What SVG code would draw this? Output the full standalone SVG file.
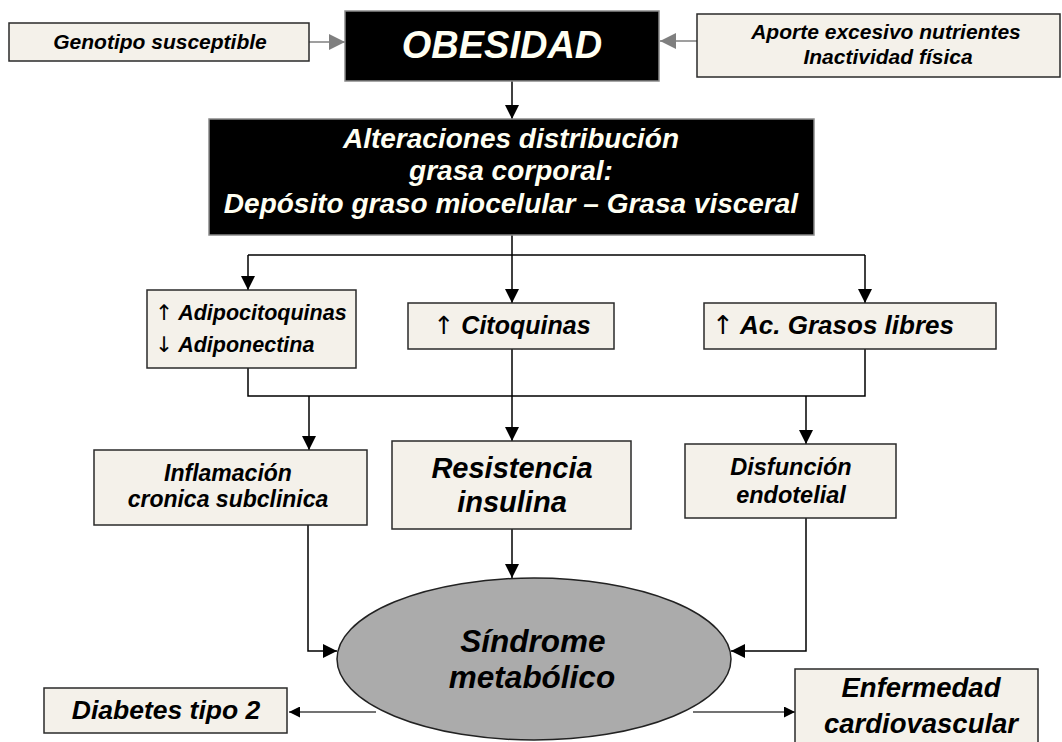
<svg xmlns="http://www.w3.org/2000/svg" width="1062" height="742" viewBox="0 0 1062 742">
<style>
.box{fill:#f4f1ea;stroke:#2a2a2a;stroke-width:1.5}
.dark{fill:#000;stroke:#8a8a8a;stroke-width:1.5}
.t{font-family:"Liberation Sans",Arial,Helvetica,sans-serif;font-weight:bold;font-style:italic;fill:#000}
.w{fill:#fffff2}
.c{text-anchor:middle}
.ar{font-family:"DejaVu Sans",sans-serif;font-weight:normal;font-style:normal}
.k{fill:none;stroke:#000;stroke-width:1.5}
.g{fill:none;stroke:#7f7f7f;stroke-width:1.5}
.d{fill:none;stroke:#444;stroke-width:1.5}
</style>
<defs>
<marker id="ab" viewBox="0 0 10 10" refX="10" refY="5" markerWidth="14" markerHeight="14" markerUnits="userSpaceOnUse" orient="auto"><path d="M0,0L10,5L0,10z" fill="#000"/></marker>
<marker id="ag" viewBox="0 0 10 10" refX="10" refY="5" markerWidth="16" markerHeight="16" markerUnits="userSpaceOnUse" orient="auto"><path d="M0,0L10,5L0,10z" fill="#7f7f7f"/></marker>
<marker id="ad" viewBox="0 0 10 10" refX="10" refY="5" markerWidth="11" markerHeight="11" markerUnits="userSpaceOnUse" orient="auto"><path d="M0,0L10,5L0,10z" fill="#000"/></marker>
</defs>
<g id="connectors">
<path class="g" d="M309,42H345" marker-end="url(#ag)"/>
<path class="g" d="M697,41H660" marker-end="url(#ag)"/>
<path class="k" d="M512,81V119" marker-end="url(#ab)"/>
<path class="k" d="M512,235V303" marker-end="url(#ab)"/>
<path class="k" d="M248,255H865"/>
<path class="k" d="M248,255V290" marker-end="url(#ab)"/>
<path class="k" d="M865,255V303" marker-end="url(#ab)"/>
<path class="k" d="M248,368V396H865V349"/>
<path class="k" d="M512,349V396"/>
<path class="k" d="M309,396V450" marker-end="url(#ab)"/>
<path class="k" d="M512,396V441" marker-end="url(#ab)"/>
<path class="k" d="M806,396V444" marker-end="url(#ab)"/>
<path class="k" d="M308,525V651H337" marker-end="url(#ab)"/>
<path class="k" d="M512,529V578" marker-end="url(#ab)"/>
<path class="k" d="M806,518V651H731" marker-end="url(#ab)"/>
<path class="d" d="M376,712H289" marker-end="url(#ad)"/>
<path class="d" d="M693,712H795" marker-end="url(#ad)"/>
</g>
<g id="genotipo">
<rect class="box" x="9" y="23" width="300" height="38"/>
<text class="t c" x="160" y="49" font-size="21">Genotipo susceptible</text>
</g>
<g id="obesidad">
<rect class="dark" x="345" y="11" width="314" height="70"/>
<text class="t c w" x="502" y="58" font-size="38">OBESIDAD</text>
</g>
<g id="aporte">
<rect class="box" x="697" y="14" width="363" height="63"/>
<text class="t c" x="886" y="39" font-size="21">Aporte excesivo nutrientes</text>
<text class="t c" x="888" y="64" font-size="21">Inactividad física</text>
</g>
<g id="alteraciones">
<rect class="dark" x="209" y="119" width="605" height="116"/>
<text class="t c w" x="511" y="148" font-size="28">Alteraciones distribución</text>
<text class="t c w" x="511" y="180" font-size="28">grasa corporal:</text>
<text class="t c w" x="511" y="213" font-size="28">Depósito graso miocelular – Grasa visceral</text>
</g>
<g id="adipocitoquinas">
<rect class="box" x="147" y="290" width="209" height="78"/>
<text class="t" x="155" y="320" font-size="21.5"><tspan class="ar">↑</tspan> Adipocitoquinas</text>
<text class="t" x="155" y="352" font-size="21.5"><tspan class="ar">↓</tspan> Adiponectina</text>
</g>
<g id="citoquinas">
<rect class="box" x="408" y="303" width="206" height="46"/>
<text class="t c" x="512" y="334" font-size="25"><tspan class="ar">↑</tspan> Citoquinas</text>
</g>
<g id="acgrasos">
<rect class="box" x="704" y="303" width="292" height="46"/>
<text class="t c" x="833" y="334" font-size="26"><tspan class="ar">↑</tspan> Ac. Grasos libres</text>
</g>
<g id="inflamacion">
<rect class="box" x="94" y="450" width="273" height="75"/>
<text class="t c" x="228" y="481" font-size="23">Inflamación</text>
<text class="t c" x="228" y="507" font-size="23">cronica subclinica</text>
</g>
<g id="resistencia">
<rect class="box" x="392" y="441" width="239" height="88"/>
<text class="t c" x="512" y="478" font-size="29">Resistencia</text>
<text class="t c" x="512" y="512" font-size="29">insulina</text>
</g>
<g id="disfuncion">
<rect class="box" x="685" y="444" width="211" height="74"/>
<text class="t c" x="791" y="475" font-size="23.5">Disfunción</text>
<text class="t c" x="791" y="503" font-size="23.5">endotelial</text>
</g>
<g id="sindrome">
<ellipse cx="534" cy="659" rx="197" ry="81" fill="#ababab" stroke="#222" stroke-width="1.5"/>
<text class="t c" x="533" y="652" font-size="31.5">Síndrome</text>
<text class="t c" x="532" y="688" font-size="31.5">metabólico</text>
</g>
<g id="diabetes">
<rect class="box" x="44" y="688" width="243" height="45"/>
<text class="t c" x="166" y="719" font-size="26.5">Diabetes tipo 2</text>
</g>
<g id="enfermedad">
<rect class="box" x="795" y="669" width="243" height="80"/>
<text class="t c" x="921" y="697" font-size="27.5">Enfermedad</text>
<text class="t c" x="921" y="733" font-size="27.5">cardiovascular</text>
</g>
</svg>
